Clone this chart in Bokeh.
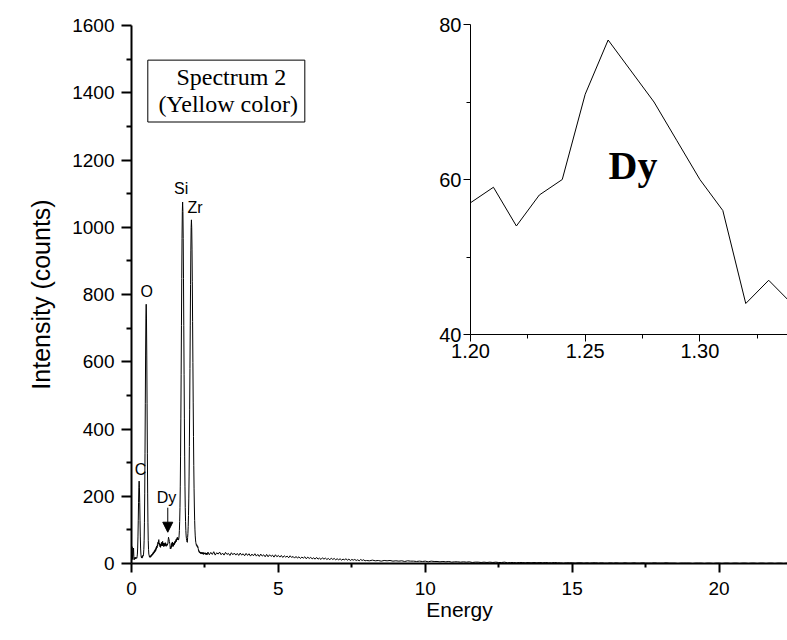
from bokeh.plotting import figure
from bokeh.models import Range1d, FixedTicker, Label, Arrow, NormalHead, BoxAnnotation, PrintfTickFormatter
from bokeh.layouts import column
from bokeh.embed import file_html
from bokeh.resources import INLINE

# ---------------- data ----------------
# EDS spectrum, channel counts (segment A: 0.00-2.59 keV, 0.01 keV channels)
start_a, step_a = 0.00, 0.01
counts_a = [
    3, 22, 50, 28, 12, 24, 40, 46, 21, 11,
    15, 13, 19, 16, 14, 18, 15, 17, 16, 20,
    28, 46, 79, 127, 182, 227, 245, 227, 182, 127,
    79, 46, 28, 20, 17, 21, 16, 22, 19, 25,
    23, 28, 42, 69, 121, 207, 328, 475, 620, 730,
    771, 730, 620, 475, 328, 207, 121, 69, 42, 28,
    24, 20, 23, 18, 22, 19, 24, 21, 26, 23,
    28, 25, 30, 27, 33, 29, 35, 31, 38, 34,
    41, 36, 44, 39, 48, 43, 52, 47, 56, 52,
    63, 58, 68, 71, 62, 55, 60, 50, 56, 48,
    58, 52, 63, 55, 60, 52, 66, 58, 54, 61,
    50, 57, 52, 60, 55, 62, 53, 58, 51, 55,
    57, 59, 54, 58, 60, 71, 78, 74, 70, 65,
    60, 56, 44, 47, 44, 52, 48, 60, 53, 64,
    57, 50, 59, 52, 61, 55, 63, 58, 66, 61,
    68, 64, 72, 66, 74, 70, 78, 72, 76, 70,
    70, 74, 82, 98, 125, 166, 230, 317, 430, 563,
    707, 848, 967, 1047, 1075, 1047, 967, 848, 707, 563,
    430, 317, 230, 166, 125, 98, 82, 74, 69, 64,
    63, 77, 89, 110, 143, 192, 260, 348, 457, 580,
    709, 830, 932, 999, 1022, 998, 935, 838, 720, 598,
    480, 378, 292, 222, 168, 128, 100, 82, 70, 62,
    58, 54, 56, 51, 53, 48, 50, 45, 40, 36,
    38, 33, 35, 31, 34, 30, 33, 29, 32, 30,
    34, 28, 31, 29, 33, 27, 30, 32, 28, 31,
    29, 32, 27, 30, 28, 31, 26, 30, 29, 27,
]
# segment B: 2.60-7.95 keV, 0.05 keV steps
start_b, step_b = 2.60, 0.05
counts_b = [
    34, 26, 33, 27, 35, 25, 32, 28, 34, 26,
    31, 25, 33, 27, 30, 24, 32, 26, 31, 25,
    30, 24, 31, 25, 29, 23, 30, 24, 29, 22,
    28, 23, 29, 22, 27, 21, 28, 22, 26, 20,
    27, 20, 26, 21, 25, 19, 26, 20, 24, 19,
    24, 18, 23, 19, 22, 17, 23, 18, 21, 16,
    21, 16, 20, 15, 19, 16, 20, 14, 19, 15,
    18, 14, 17, 13, 18, 13, 16, 12, 17, 13,
    16, 12, 15, 11, 16, 12, 15, 11, 14, 11,
    14, 10, 13, 11, 14, 10, 13, 9, 12, 10,
    12, 9, 11, 8, 12, 9, 11, 8,
]
# segment C: 8.0-22.4 keV, 0.1 keV steps
start_c, step_c = 8.0, 0.1
counts_c = [
    9, 8, 10, 8, 9, 7, 9, 8, 9, 7,
    8, 7, 8, 6, 8, 7, 7, 6, 7, 6,
    7, 5, 7, 6, 6, 5, 6, 5, 6, 4,
    5, 5, 4, 5, 4, 5, 3, 4, 4, 3,
    4, 3, 4, 3, 4, 3, 3, 4, 2, 3,
    3, 2, 3, 3, 2, 3, 2, 3, 2, 3,
    2, 3, 2, 2, 3, 2, 2, 1, 2, 2,
    2, 1, 2, 2, 1, 2, 1, 2, 2, 1,
    2, 1, 1, 2, 1, 2, 1, 1, 2, 1,
    1, 2, 1, 1, 2, 1, 1, 1, 2, 1,
    1, 1, 2, 1, 1, 1, 0, 1, 1, 1,
    1, 0, 1, 1, 1, 0, 1, 1, 0, 1,
    1, 0, 1, 1, 0, 1, 1, 0, 1, 1,
    0, 1, 1, 0, 1, 1, 0, 1, 1, 0,
    1, 1, 0, 1, 1,
]

energy_a = [round(start_a + step_a * i, 2) for i in range(len(counts_a))]
energy_b = [round(start_b + step_b * i, 2) for i in range(len(counts_b))]
energy_c = [round(start_c + step_c * i, 1) for i in range(len(counts_c))]
energy = energy_a + energy_b + energy_c
counts = counts_a + counts_b + counts_c

# inset: the Dy region 1.20-1.34 keV
inset_lo, inset_hi = 120, 135
inset_energy = energy_a[inset_lo:inset_hi]
inset_counts = counts_a[inset_lo:inset_hi]

x_major = [0, 5, 10, 15, 20]
x_minor = [2.5, 7.5, 12.5, 17.5]
y_major = [0, 200, 400, 600, 800, 1000, 1200, 1400, 1600]
y_minor = [100, 300, 500, 700, 900, 1100, 1300, 1500]
ix_major = [1.20, 1.25, 1.30]
ix_minor = [1.225, 1.275, 1.325]
iy_major = [40, 60, 80]
iy_minor = [50, 70]

peak_labels = [("C", 0.11, 281), ("O", 0.31, 809), ("Si", 1.45, 1114), ("Zr", 1.906, 1059), ("Dy", 0.861, 197)]

SANS = "Liberation Sans"
SERIF = "Liberation Serif"

# ---------------- main plot ----------------
p = figure(width=787, height=640, output_backend="svg", toolbar_location=None,
           x_range=Range1d(0, 22.33), y_range=Range1d(0, 1600), frame_align=False,
           min_border_left=131, min_border_right=0, min_border_top=25, min_border_bottom=77)
p.outline_line_color = None
p.grid.visible = False
p.background_fill_color = "white"
p.border_fill_color = "white"

p.line(energy, counts, line_color="black", line_width=1)

for ax in (p.xaxis[0], p.yaxis[0]):
    ax.axis_line_width = 2
    ax.axis_line_color = "black"
    ax.major_tick_line_width = 2
    ax.minor_tick_line_width = 2
    ax.major_tick_line_color = "black"
    ax.minor_tick_line_color = "black"
    ax.major_tick_in = 0
    ax.minor_tick_in = 0
    ax.major_label_text_font = SANS
    ax.major_label_text_font_size = "19px"
    ax.major_label_text_color = "black"
    ax.axis_label_text_font = SANS
    ax.axis_label_text_font_style = "normal"
    ax.axis_label_text_color = "black"

p.xaxis.ticker = FixedTicker(ticks=x_major, minor_ticks=x_minor)
p.xaxis.major_tick_out = 9
p.xaxis.minor_tick_out = 4
p.xaxis.major_label_standoff = 9
p.xaxis.axis_label = "Energy"
p.xaxis.axis_label_text_font_size = "21px"
p.xaxis.axis_label_standoff = 0

p.yaxis.ticker = FixedTicker(ticks=y_major, minor_ticks=y_minor)
p.yaxis.major_tick_out = 10
p.yaxis.minor_tick_out = 5
p.yaxis.major_label_standoff = 7
p.yaxis.axis_label = "Intensity (counts)"
p.yaxis.axis_label_text_font_size = "25px"
p.yaxis.axis_label_standoff = 14

for txt, xx, yy in peak_labels:
    p.add_layout(Label(x=xx, y=yy, text=txt, text_font=SANS, text_font_size="16px",
                       text_color="black", text_baseline="alphabetic", text_align="left"))

p.add_layout(Arrow(x_start=1.235, y_start=166, x_end=1.235, y_end=93,
                   line_color="black", line_width=1,
                   end=NormalHead(size=10, fill_color="black", line_color="black")))

p.add_layout(BoxAnnotation(left=0.555, right=5.90, top=1497, bottom=1313,
                           fill_alpha=0, line_color="black", line_alpha=1, line_width=1))
p.add_layout(Label(x=3.40, y=1447, text="Spectrum 2", text_font=SERIF, text_font_size="24px",
                   text_color="black", text_align="center", text_baseline="alphabetic"))
p.add_layout(Label(x=3.29, y=1368, text="(Yellow color)", text_font=SERIF, text_font_size="24px",
                   text_color="black", text_align="center", text_baseline="alphabetic"))

# ---------------- inset (overlaid, transparent, full width) ----------------
q = figure(width=787, height=354, output_backend="svg", toolbar_location=None,
           x_range=Range1d(1.20, 1.3382), y_range=Range1d(40, 80), frame_align=False,
           min_border_left=470, min_border_right=0, min_border_top=14, min_border_bottom=30,
           margin=(-630, 0, 0, 0))
q.outline_line_color = None
q.grid.visible = False
q.background_fill_alpha = 0
q.border_fill_alpha = 0

q.line(inset_energy, inset_counts, line_color="black", line_width=1)

for ax in (q.xaxis[0], q.yaxis[0]):
    ax.axis_line_width = 1
    ax.axis_line_color = "black"
    ax.major_tick_line_color = "black"
    ax.minor_tick_line_color = "black"
    ax.major_tick_in = 0
    ax.minor_tick_in = 0
    ax.major_tick_out = 7
    ax.minor_tick_out = 4
    ax.major_label_standoff = 2
    ax.major_label_text_font = SANS
    ax.major_label_text_font_size = "20px"
    ax.major_label_text_color = "black"

q.xaxis.ticker = FixedTicker(ticks=ix_major, minor_ticks=ix_minor)
q.xaxis.formatter = PrintfTickFormatter(format="%.2f")
q.yaxis.ticker = FixedTicker(ticks=iy_major, minor_ticks=iy_minor)

q.add_layout(Label(x=1.2602, y=61.8, text="Dy", text_font=SERIF, text_font_size="40px",
                   text_font_style="bold", text_color="black", text_baseline="alphabetic"))

layout = column(p, q)
open("out.html", "w").write(file_html(layout, INLINE))
